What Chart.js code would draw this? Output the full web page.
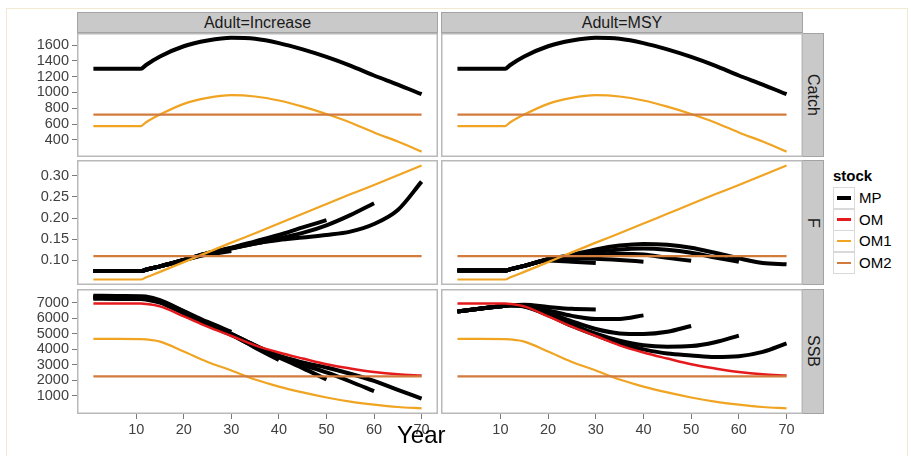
<!DOCTYPE html>
<html>
<head>
<meta charset="utf-8">
<script src="https://cdn.jsdelivr.net/npm/chart.js@4/dist/chart.umd.min.js"></script>
<style>
  html, body { margin: 0; padding: 0; }
  body { width: 911px; height: 456px; background: #fff; position: relative; overflow: hidden;
         font-family: "Liberation Sans", Arial, Helvetica, sans-serif; }
  .frame { position: absolute; left: 6px; top: 8px; width: 900px; height: 470px; border: 1px solid #f1ead0; }
  .strip { position: absolute; background: #c9c9c9; border: 1px solid #a3a3a3; box-sizing: border-box;
           color: #1a1a1a; font-size: 16px; display: flex; align-items: center; justify-content: center; }
  .vstrip { writing-mode: vertical-rl; }
  canvas { position: absolute; }
  .legtitle { position: absolute; font-weight: bold; font-size: 15px; color: #000; }
  .key { position: absolute; width: 22px; height: 22px; box-sizing: border-box; border: 1px solid #d9d9d9; background: #fff; }
  .key i { position: absolute; left: 3px; right: 3px; top: 50%; display: block; }
  .leglab { position: absolute; font-size: 15px; color: #000; }
  .xtitle { position: absolute; font-size: 24px; color: #000; line-height: 24px; }
</style>
</head>
<body>
<div class="frame"></div>

<div class="strip" style="left:77px;top:12px;width:361px;height:21px;">Adult=Increase</div>
<div class="strip" style="left:441px;top:12px;width:362px;height:21px;">Adult=MSY</div>
<div class="strip vstrip" style="left:802px;top:33px;width:22px;height:124px;">Catch</div>
<div class="strip vstrip" style="left:802px;top:160px;width:22px;height:125px;">F</div>
<div class="strip vstrip" style="left:802px;top:289px;width:22px;height:125px;">SSB</div>

<canvas id="c1" width="438" height="124" style="left:0;top:33px"></canvas>
<canvas id="c2" width="362" height="124" style="left:441px;top:33px"></canvas>
<canvas id="c3" width="438" height="125" style="left:0;top:160px"></canvas>
<canvas id="c4" width="362" height="125" style="left:441px;top:160px"></canvas>
<canvas id="c5" width="438" height="149" style="left:0;top:289px"></canvas>
<canvas id="c6" width="362" height="149" style="left:441px;top:289px"></canvas>

<div class="legtitle" style="left:833px;top:167px;">stock</div>
<div id="legend"></div>
<div class="xtitle" style="left:397px;top:423px;">Year</div>

<script>
// ---------------- data ----------------
const years = [1, 6, 11, 12, 15, 20, 25, 30, 35, 40, 45, 50, 55, 60, 65, 70];
const xTicks = [10, 20, 30, 40, 50, 60, 70];
const catchTicks = [400, 600, 800, 1000, 1200, 1400, 1600];
const fTicks = [0.10, 0.15, 0.20, 0.25, 0.30];
const ssbTicks = [1000, 2000, 3000, 4000, 5000, 6000, 7000];
const stocks = ["MP", "OM", "OM1", "OM2"];

// Catch (same in both facets)
const catchMP  = [1300, 1300, 1300, 1345, 1455, 1585, 1657, 1693, 1680, 1625, 1545, 1450, 1340, 1215, 1100, 978];
const catchOM1 = [575, 575, 575, 620, 720, 856, 932, 966, 949, 898, 821, 728, 621, 493, 378, 251];
const catchOM2 = [720, 720, 720, 720, 720, 720, 720, 720, 720, 720, 720, 720, 720, 720, 720, 720];

// F
const fOM1 = [0.055, 0.055, 0.055, 0.0596, 0.073, 0.096, 0.119, 0.142, 0.164, 0.187, 0.210, 0.233, 0.256, 0.278, 0.301, 0.324];
const fOM2 = [0.11, 0.11, 0.11, 0.11, 0.11, 0.11, 0.11, 0.11, 0.11, 0.11, 0.11, 0.11, 0.11, 0.11, 0.11, 0.11];
const fInc30 = [0.075, 0.075, 0.075, 0.078, 0.086, 0.101, 0.114, 0.122];
const fInc40 = [0.075, 0.075, 0.075, 0.078, 0.086, 0.101, 0.116, 0.129, 0.140, 0.150];
const fInc50 = [0.075, 0.075, 0.075, 0.078, 0.086, 0.101, 0.117, 0.130, 0.145, 0.160, 0.178, 0.195];
const fInc60 = [0.075, 0.075, 0.075, 0.078, 0.086, 0.101, 0.117, 0.129, 0.142, 0.152, 0.165, 0.183, 0.207, 0.235];
const fInc70 = [0.075, 0.075, 0.075, 0.078, 0.086, 0.101, 0.117, 0.128, 0.140, 0.148, 0.154, 0.160, 0.168, 0.186, 0.219, 0.286];
const fMsy30 = [0.076, 0.076, 0.076, 0.079, 0.087, 0.100, 0.097, 0.094];
const fMsy40 = [0.076, 0.076, 0.076, 0.079, 0.087, 0.102, 0.105, 0.104, 0.101, 0.097];
const fMsy50 = [0.076, 0.076, 0.076, 0.079, 0.087, 0.102, 0.108, 0.113, 0.116, 0.114, 0.106, 0.099];
const fMsy60 = [0.076, 0.076, 0.076, 0.079, 0.087, 0.103, 0.111, 0.120, 0.126, 0.128, 0.125, 0.118, 0.107, 0.097];
const fMsy70 = [0.076, 0.076, 0.076, 0.079, 0.087, 0.103, 0.113, 0.126, 0.135, 0.139, 0.137, 0.130, 0.118, 0.105, 0.094, 0.091];

// SSB
const ssbOM  = [6950, 6950, 6940, 6920, 6760, 6120, 5450, 4850, 4250, 3790, 3400, 3030, 2760, 2530, 2380, 2300];
const ssbOM1 = [4660, 4660, 4650, 4630, 4490, 3850, 3180, 2630, 2045, 1590, 1215, 890, 625, 430, 277, 190];
const ssbOM2 = [2250, 2250, 2250, 2250, 2250, 2250, 2250, 2250, 2250, 2250, 2250, 2250, 2250, 2250, 2250, 2250];
const ssbInc30 = [7450, 7430, 7420, 7400, 7160, 6460, 5760, 5120];
const ssbInc40 = [7250, 7240, 7230, 7210, 7000, 6310, 5600, 4930, 4100, 3300];
const ssbInc50 = [7300, 7290, 7280, 7260, 7040, 6340, 5580, 4920, 4160, 3470, 2780, 2050];
const ssbInc60 = [7400, 7380, 7360, 7340, 7120, 6420, 5660, 4990, 4240, 3530, 3000, 2500, 1920, 1300];
const ssbInc70 = [7350, 7330, 7320, 7300, 7080, 6380, 5620, 4980, 4250, 3580, 3150, 2820, 2420, 1960, 1380, 820];
const ssbMsy30 = [6430, 6620, 6800, 6830, 6860, 6720, 6600, 6560];
const ssbMsy40 = [6430, 6620, 6800, 6830, 6800, 6500, 6150, 5950, 5950, 6180];
const ssbMsy50 = [6430, 6620, 6800, 6830, 6780, 6350, 5800, 5300, 5020, 4980, 5120, 5500];
const ssbMsy60 = [6430, 6620, 6800, 6830, 6760, 6250, 5600, 5000, 4550, 4250, 4160, 4200, 4450, 4880];
const ssbMsy70 = [6430, 6620, 6800, 6830, 6750, 6200, 5500, 4900, 4350, 3990, 3720, 3600, 3500, 3550, 3830, 4380];

// ---------------- styling ----------------
const COLORS = { MP: "#000000", OM: "#e41a1c", OM1: "#f0a422", OM2: "#d27b3c" };
const WIDTHS = { MP: 4, OM: 2.5, OM1: 2.2, OM2: 2.2 };
const ORDER  = { MP: 4, OM: 3, OM1: 2, OM2: 1 };
const FONT = { family: '"Liberation Sans", Arial, Helvetica, sans-serif', size: 14.5 };

function pts(vals) { return vals.map((v, i) => ({ x: years[i], y: v })); }
function ds(stock, vals) {
  return {
    label: stock, data: pts(vals),
    borderColor: COLORS[stock], borderWidth: WIDTHS[stock],
    pointRadius: 0, fill: false, cubicInterpolationMode: "monotone",
    borderCapStyle: "butt", borderJoinStyle: "round", order: ORDER[stock]
  };
}

const borderPlugin = {
  id: "panelBorder",
  afterDraw(chart) {
    const a = chart.chartArea, ctx = chart.ctx;
    ctx.save();
    ctx.strokeStyle = "#b9b9b9";
    ctx.lineWidth = 1.5;
    ctx.strokeRect(a.left + 0.75, a.top + 0.75, a.right - a.left - 1.5, a.bottom - a.top - 1.5);
    ctx.restore();
  }
};

function makePanel(id, datasets, yMin, yMax, yTicks, yFmt, showY, showX) {
  return new Chart(document.getElementById(id), {
    type: "line",
    data: { datasets },
    options: {
      responsive: false, animation: false, devicePixelRatio: 1,
      layout: { padding: 0 },
      plugins: { legend: { display: false }, tooltip: { enabled: false } },
      scales: {
        x: {
          type: "linear", min: -2.45, max: 73.45, display: showX,
          grid: { display: true, drawOnChartArea: false, drawTicks: true, tickLength: 5, tickColor: "#7a7a7a", tickWidth: 1 },
          border: { display: false },
          ticks: { font: FONT, color: "#404040", padding: 2, maxRotation: 0, autoSkip: false, includeBounds: false,
                   callback: v => String(v) },
          afterBuildTicks: s => { s.ticks = xTicks.map(v => ({ value: v })); },
          afterFit: s => { s.height = showX ? 24 : 0; s.paddingLeft = 0; s.paddingRight = 0; }
        },
        y: {
          type: "linear", min: yMin, max: yMax, display: showY,
          grid: { display: true, drawOnChartArea: false, drawTicks: true, tickLength: 5, tickColor: "#7a7a7a", tickWidth: 1 },
          border: { display: false },
          ticks: { font: FONT, color: "#404040", padding: 3, autoSkip: false, includeBounds: false, callback: yFmt },
          afterBuildTicks: s => { s.ticks = yTicks.map(v => ({ value: v })); },
          afterFit: s => { s.width = showY ? 77 : 0; s.paddingTop = 0; s.paddingBottom = 0; }
        }
      }
    },
    plugins: [borderPlugin]
  });
}

const intFmt = v => String(v);
const decFmt = v => v.toFixed(2);

// Catch row
makePanel("c1", [ds("MP", catchMP), ds("OM1", catchOM1), ds("OM2", catchOM2)], 183, 1753, catchTicks, intFmt, true, false);
makePanel("c2", [ds("MP", catchMP), ds("OM1", catchOM1), ds("OM2", catchOM2)], 183, 1753, catchTicks, intFmt, false, false);
// F row
makePanel("c3", [ds("MP", fInc30), ds("MP", fInc40), ds("MP", fInc50), ds("MP", fInc60), ds("MP", fInc70),
                 ds("OM1", fOM1), ds("OM2", fOM2)], 0.042, 0.337, fTicks, decFmt, true, false);
makePanel("c4", [ds("MP", fMsy30), ds("MP", fMsy40), ds("MP", fMsy50), ds("MP", fMsy60), ds("MP", fMsy70),
                 ds("OM1", fOM1), ds("OM2", fOM2)], 0.042, 0.337, fTicks, decFmt, false, false);
// SSB row
makePanel("c5", [ds("MP", ssbInc30), ds("MP", ssbInc40), ds("MP", ssbInc50), ds("MP", ssbInc60), ds("MP", ssbInc70),
                 ds("OM", ssbOM), ds("OM1", ssbOM1), ds("OM2", ssbOM2)], -175, 7880, ssbTicks, intFmt, true, true);
makePanel("c6", [ds("MP", ssbMsy30), ds("MP", ssbMsy40), ds("MP", ssbMsy50), ds("MP", ssbMsy60), ds("MP", ssbMsy70),
                 ds("OM", ssbOM), ds("OM1", ssbOM1), ds("OM2", ssbOM2)], -175, 7880, ssbTicks, intFmt, false, true);

// legend
const leg = document.getElementById("legend");
stocks.forEach((s, i) => {
  const top = 187 + i * 21.7;
  const k = document.createElement("div");
  k.className = "key";
  k.style.left = "833px"; k.style.top = top + "px";
  const line = document.createElement("i");
  line.style.height = WIDTHS[s] + "px";
  line.style.marginTop = (-WIDTHS[s] / 2) + "px";
  line.style.background = COLORS[s];
  k.appendChild(line);
  leg.appendChild(k);
  const l = document.createElement("div");
  l.className = "leglab";
  l.textContent = s;
  l.style.left = "859px"; l.style.top = (top + 2) + "px";
  leg.appendChild(l);
});
</script>
</body>
</html>
